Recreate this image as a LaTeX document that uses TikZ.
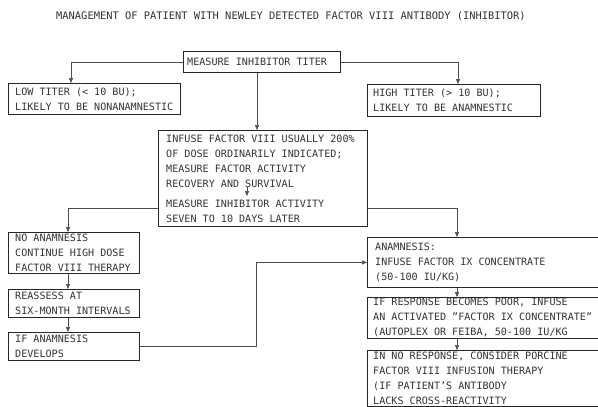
\documentclass[tikz,border=0pt]{standalone}
\usepackage{fontspec}
\setmainfont{DejaVu Sans Mono}
\usetikzlibrary{arrows.meta,calc}
\begin{document}
\begin{tikzpicture}[x=1pt,y=-1pt,
  box/.style={draw=black!85, line width=0.9pt, anchor=north west, inner sep=0pt},
  txt/.style={anchor=west, inner sep=0pt, align=left, text=black!80,
    font=\fontsize{10.1}{15}\selectfont},
  conn/.style={draw=black!70, line width=0.55pt, -{Triangle[length=5pt,width=4pt]}},
  plain/.style={draw=black!70, line width=0.55pt}]
\useasboundingbox (0,0) rectangle (598,407);
\clip (0,0) rectangle (598,407);
\node[text=black!80, font=\fontsize{10.4}{12}\selectfont, inner sep=0pt] (title) at (291,16)
  {MANAGEMENT OF PATIENT WITH NEWLEY DETECTED FACTOR VIII ANTIBODY (INHIBITOR)};
% boxes
\node[box, minimum width=157pt, minimum height=21pt] (top) at (183,51) {};
\node[txt] (topT) at ([xshift=4pt]top.west) {MEASURE INHIBITOR TITER};
\node[box, minimum width=172pt, minimum height=31pt] (low) at (8,83) {};
\node[txt] (lowT) at ([xshift=7pt]low.west) {LOW TITER (< 10 BU);\\LIKELY TO BE NONANAMNESTIC};
\node[box, minimum width=173pt, minimum height=32pt] (high) at (367,84) {};
\node[txt] (highT) at ([xshift=6pt]high.west) {HIGH TITER (> 10 BU);\\LIKELY TO BE ANAMNESTIC};
\node[box, minimum width=209pt, minimum height=96pt] (infuse) at (158,130) {};
\node[txt] (infuseT) at ([xshift=8pt]infuse.west) {INFUSE FACTOR VIII USUALLY 200\%\\OF DOSE ORDINARILY INDICATED;\\MEASURE FACTOR ACTIVITY\\RECOVERY AND SURVIVAL\\[5pt]MEASURE INHIBITOR ACTIVITY\\SEVEN TO 10 DAYS LATER};
\node[box, minimum width=131pt, minimum height=41pt] (noanam) at (8,232) {};
\node[txt] (noanamT) at ([xshift=7pt]noanam.west) {NO ANAMNESIS\\CONTINUE HIGH DOSE\\FACTOR VIII THERAPY};
\node[box, minimum width=131pt, minimum height=28pt] (reassess) at (8,289) {};
\node[txt] (reassessT) at ([xshift=7pt]reassess.west) {REASSESS AT\\SIX-MONTH INTERVALS};
\node[box, minimum width=131pt, minimum height=28pt] (ifanam) at (8,332) {};
\node[txt] (ifanamT) at ([xshift=7pt]ifanam.west) {IF ANAMNESIS\\DEVELOPS};
\node[box, minimum width=245pt, minimum height=50pt] (anam) at (367,237) {};
\node[txt] (anamT) at ([xshift=8pt]anam.west) {ANAMNESIS:\\INFUSE FACTOR IX CONCENTRATE\\(50-100 IU/KG)};
\node[box, minimum width=245pt, minimum height=41pt] (resp) at (367,297) {};
\node[txt] (respT) at ([xshift=6pt]resp.west) {IF RESPONSE BECOMES POOR, INFUSE\\AN ACTIVATED "FACTOR IX CONCENTRATE"\\(AUTOPLEX OR FEIBA, 50-100 IU/KG};
\node[box, minimum width=245pt, minimum height=56pt] (noresp) at (367,350) {};
\node[txt] (norespT) at ([xshift=6pt]noresp.west) {IN NO RESPONSE, CONSIDER PORCINE\\FACTOR VIII INFUSION THERAPY\\(IF PATIENT'S ANTIBODY\\LACKS CROSS-REACTIVITY};
% connectors
\draw[conn] (top.west) -| ($(low.north west)+(63,0)$);
\draw[conn] (top.east) -| ($(high.north west)+(91,0)$);
\draw[conn] ($(top.south west)+(74,0)$) -- ($(infuse.north west)+(99,0)$);
\draw[conn] ($(infuse.north west)+(89,57)$) -- ($(infuse.north west)+(89,66)$);
\draw[conn] ($(infuse.south west)+(0,-19)$) -| ($(noanam.north west)+(60,0)$);
\draw[conn] ($(infuse.south east)+(0,-19)$) -| ($(anam.north west)+(90,0)$);
\draw[conn] ($(noanam.south west)+(60,0)$) -- ($(reassess.north west)+(60,0)$);
\draw[conn] ($(reassess.south west)+(60,0)$) -- ($(ifanam.north west)+(60,0)$);
\draw[conn] (ifanam.east) -- ++(116,0) |- (anam.west);
\draw[conn] ($(anam.south west)+(90,0)$) -- ($(resp.north west)+(90,0)$);
\draw[conn] ($(resp.south west)+(90,0)$) -- ($(noresp.north west)+(90,0)$);
\end{tikzpicture}
\end{document}
